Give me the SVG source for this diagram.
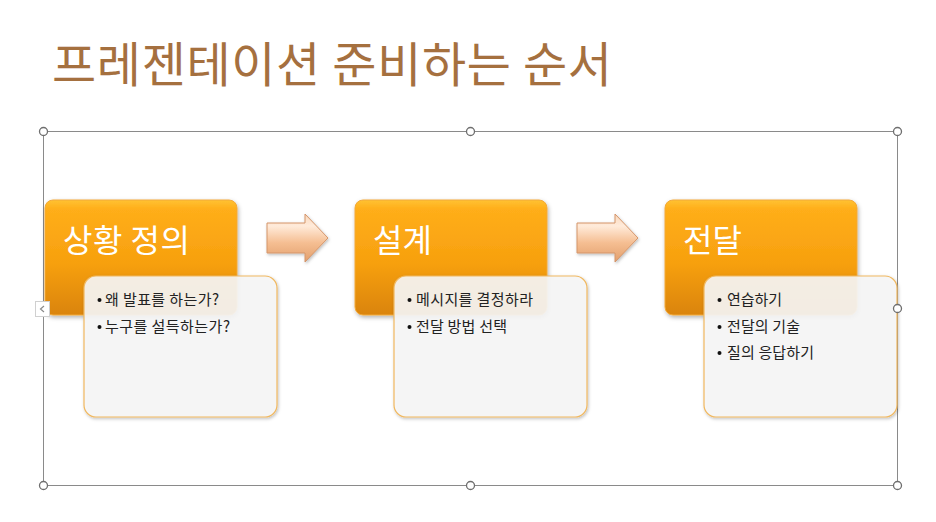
<svg xmlns="http://www.w3.org/2000/svg" width="936" height="522" viewBox="0 0 936 522">
<defs>
<linearGradient id="og" x1="0" y1="0" x2="0" y2="1">
<stop offset="0" stop-color="#FFC233"/>
<stop offset="0.08" stop-color="#FFAE1A"/>
<stop offset="0.55" stop-color="#F7A00E"/>
<stop offset="1" stop-color="#DA840C"/>
</linearGradient>
<linearGradient id="ag" x1="0" y1="0" x2="0" y2="1">
<stop offset="0" stop-color="#FBD9BC"/>
<stop offset="0.25" stop-color="#FFEBDA"/>
<stop offset="0.6" stop-color="#F5BE92"/>
<stop offset="1" stop-color="#E29F6C"/>
</linearGradient>
<filter id="sh" x="-10%" y="-10%" width="125%" height="130%">
<feDropShadow dx="1" dy="2" stdDeviation="2" flood-color="#000" flood-opacity="0.3"/>
</filter>
<filter id="sh2" x="-10%" y="-10%" width="125%" height="130%">
<feDropShadow dx="1" dy="1.5" stdDeviation="1.5" flood-color="#000" flood-opacity="0.25"/>
</filter>
</defs>
<style>
.title{font-family:"Noto Sans CJK KR","Noto Sans",sans-serif;font-size:48px;fill:#A5703F;}
.head{font-family:"Noto Sans CJK KR","Noto Sans",sans-serif;font-size:32px;fill:#FFFFFF;}
.item{font-family:"Noto Sans CJK KR","Noto Sans",sans-serif;font-size:15px;fill:#222222;}
.dot{fill:#111111;}
.obox{fill:url(#og);stroke:#F2A93A;stroke-width:1;filter:url(#sh);}
.wbox{fill:#F7F7F7;fill-opacity:0.9;stroke:#F0B860;stroke-width:1.2;filter:url(#sh2);}
.arrow{fill:url(#ag);stroke:#D4956A;stroke-width:1;filter:url(#sh2);}
.frame{fill:none;stroke:#8A8A8A;stroke-width:1;}
.handle{fill:#FFFFFF;stroke:#6E6E6E;stroke-width:1.3;}
</style>
<rect width="936" height="522" fill="#FFFFFF"/>
<text class="title" x="52" y="82" textLength="560" lengthAdjust="spacing">프레젠테이션 준비하는 순서</text>

<g id="frame">
<rect class="frame" x="43.5" y="131.5" width="854" height="354"/>
</g>

<g id="connectors">
<path class="arrow" d="M267,223 H305 V214 L328,238 L305,262 V253 H267 Z"/>
<path class="arrow" d="M577,223 H615 V214 L638,238 L615,262 V253 H577 Z"/>
</g>

<g id="node1">
<rect class="obox" x="45" y="200" width="192" height="115" rx="8"/>
<text class="head" x="63" y="252" textLength="127" lengthAdjust="spacing">상황 정의</text>
<rect class="wbox" x="84" y="276" width="193" height="141" rx="12"/>
<circle class="dot" cx="99.5" cy="300" r="2"/>
<text class="item" x="105" y="305" textLength="114" lengthAdjust="spacing">왜 발표를 하는가?</text>
<circle class="dot" cx="99.5" cy="327" r="2"/>
<text class="item" x="105" y="332" textLength="125" lengthAdjust="spacing">누구를 설득하는가?</text>
</g>

<g id="node2">
<rect class="obox" x="355" y="200" width="192" height="115" rx="8"/>
<text class="head" x="373" y="252" textLength="59" lengthAdjust="spacing">설계</text>
<rect class="wbox" x="394" y="276" width="193" height="141" rx="12"/>
<circle class="dot" cx="409.5" cy="300" r="2"/>
<text class="item" x="416" y="305" textLength="117" lengthAdjust="spacing">메시지를 결정하라</text>
<circle class="dot" cx="409.5" cy="327" r="2"/>
<text class="item" x="416" y="332" textLength="91" lengthAdjust="spacing">전달 방법 선택</text>
</g>

<g id="node3">
<rect class="obox" x="665" y="200" width="192" height="115" rx="8"/>
<text class="head" x="683" y="252" textLength="59" lengthAdjust="spacing">전달</text>
<rect class="wbox" x="704" y="276" width="193" height="141" rx="12"/>
<circle class="dot" cx="719.5" cy="300" r="2"/>
<text class="item" x="727" y="305" textLength="55" lengthAdjust="spacing">연습하기</text>
<circle class="dot" cx="719.5" cy="327" r="2"/>
<text class="item" x="727" y="332" textLength="73" lengthAdjust="spacing">전달의 기술</text>
<circle class="dot" cx="719.5" cy="353" r="2"/>
<text class="item" x="727" y="358" textLength="87" lengthAdjust="spacing">질의 응답하기</text>
</g>

<g id="handles">
<circle class="handle" cx="43.5" cy="131.5" r="4"/>
<circle class="handle" cx="470.5" cy="131.5" r="4"/>
<circle class="handle" cx="897.5" cy="131.5" r="4"/>
<circle class="handle" cx="897.5" cy="308.5" r="4"/>
<circle class="handle" cx="43.5" cy="485.5" r="4"/>
<circle class="handle" cx="470.5" cy="485.5" r="4"/>
<circle class="handle" cx="897.5" cy="485.5" r="4"/>
<rect x="35.5" y="301.5" width="14" height="15" fill="#FFFFFF" stroke="#D0D0D0" stroke-width="1"/>
<path d="M44,306 L40.5,309 L44,312" fill="none" stroke="#8A8A8A" stroke-width="1.2"/>
</g>
</svg>
